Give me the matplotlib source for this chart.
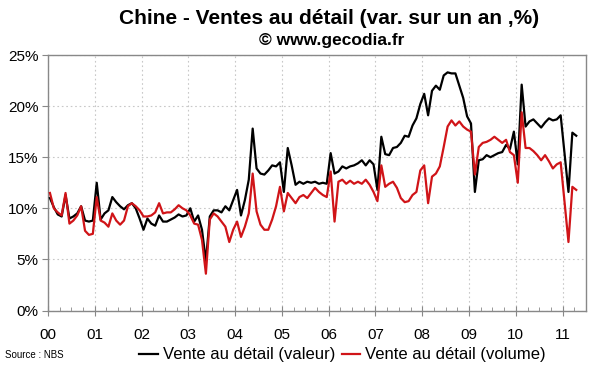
import matplotlib
matplotlib.use("Agg")
import matplotlib.pyplot as plt
from matplotlib.lines import Line2D



YEAR_LABELS=["00","01","02","03","04","05","06","07","08","09","10","11"]

# variation sur un an, %, janvier 2000 -> avril 2011 (mensuel)
VALEUR=[
	11.0,10.1,9.4,9.2,11.3,9.0,9.2,9.5,10.2,8.8,8.7,8.8,
	12.5,8.9,9.5,9.8,11.1,10.6,10.2,9.9,10.3,10.5,10.0,9.0,
	7.9,9.0,8.5,8.3,9.3,8.7,8.7,8.9,9.1,9.4,9.2,9.3,
	10.0,8.7,9.3,7.9,4.8,9.2,9.8,9.8,9.6,10.2,9.8,10.8,
	11.8,9.3,10.8,12.8,17.8,13.9,13.4,13.3,13.7,14.2,14.1,14.5,
	11.6,15.9,14.2,12.3,12.6,12.4,12.6,12.5,12.6,12.4,12.5,12.4,
	15.4,13.4,13.6,14.1,13.9,14.1,14.2,14.4,14.7,14.2,14.7,14.3,
	11.8,17.0,15.3,15.2,15.9,16.0,16.4,17.1,17.0,18.1,18.8,20.2,
	21.2,19.1,21.5,22.0,21.6,23.0,23.3,23.2,23.2,22.0,20.8,19.0,
	18.3,11.6,14.7,14.8,15.2,15.0,15.2,15.4,15.5,16.2,15.8,17.5,
	14.3,22.1,18.0,18.5,18.7,18.3,17.9,18.4,18.8,18.6,18.7,19.1,
	15.3,11.6,17.4,17.1,
]
VOLUME=[
	11.5,10.0,9.6,9.3,11.5,8.5,8.8,9.3,10.2,7.8,7.4,7.5,
	11.1,8.8,8.6,8.2,9.5,8.8,8.4,8.8,10.2,10.5,10.2,9.8,
	9.2,9.2,9.3,9.6,10.5,9.5,9.6,9.6,9.9,10.3,10.0,9.8,
	9.3,8.5,8.4,6.9,3.6,8.9,9.5,9.2,8.7,8.2,6.7,7.9,
	8.7,7.2,8.2,9.5,13.4,9.7,8.4,7.9,7.9,8.9,10.2,12.1,
	9.7,11.5,11.0,10.5,11.1,11.3,11.0,11.5,12.0,11.6,11.3,11.1,
	13.6,8.7,12.6,12.8,12.4,12.7,12.4,12.6,12.4,12.8,12.3,11.6,
	10.7,14.2,12.1,12.4,12.6,12.0,11.0,10.6,10.7,11.3,11.6,13.7,
	14.2,10.5,13.1,13.4,14.1,16.0,18.0,18.6,18.1,18.5,18.0,17.7,
	17.5,13.3,16.0,16.4,16.5,16.7,17.0,16.7,16.4,16.7,15.5,15.2,
	12.5,19.4,15.9,15.9,15.6,15.2,14.7,15.2,14.6,13.9,14.3,14.5,
	10.6,6.7,12.1,11.8,
]

BLACK="#000000"
RED="#d01418"
GRID="#c8c8c8"
FRAME="#888888"



plt.rcParams["font.family"]=["Liberation Sans","DejaVu Sans"]
fig=plt.figure(figsize=(6,3.72),dpi=100)
ax=fig.add_axes([48/600,1-310.5/372,538/600,255.5/372])
months=[i+0.5 for i in range(0,len(VALEUR))]
ax.plot(months,VALEUR,"-",color=BLACK,linewidth=1.6,zorder=3)
ax.plot(months,VOLUME,"-",color=RED,linewidth=1.6,zorder=3)
ax.set_xlim(0,138)
ax.set_ylim(0,25)
ax.set_yticks(range(0,30,5))
ax.set_yticklabels([f"{v}%" for v in range(0,30,5)],fontsize=11)
ax.set_xticks([12*i for i in range(0,len(YEAR_LABELS))])
ax.set_xticklabels(YEAR_LABELS,fontsize=11)
ax.set_xticks(range(0,138,3),minor=True)
ax.tick_params(axis="x",which="major",direction="inout",length=7,color=FRAME,pad=9)
ax.tick_params(axis="x",which="minor",direction="in",length=3,color=FRAME)
ax.tick_params(axis="y",which="major",direction="out",length=4,color=FRAME,pad=3)
ax.grid(True,which="major",color=GRID,linestyle=(0,(1.5,2.5)),linewidth=0.8)
for s in ax.spines.values():
	s.set_color(FRAME)
	s.set_linewidth(1)
fig.text(0.549,1-18/372,"Chine - Ventes au détail (var. sur un an ,%)",ha="center",va="center",fontsize=15,fontweight="bold")
fig.text(0.552,1-41/372,"© www.gecodia.fr",ha="center",va="center",fontsize=12.5,fontweight="bold")
fig.text(5/600,1-355/372,"Source : NBS",ha="left",va="center",fontsize=7)
handles=[Line2D([],[],color=BLACK,linewidth=1.6),Line2D([],[],color=RED,linewidth=1.6)]
fig.legend(handles,["Vente au détail (valeur)","Vente au détail (volume)"],loc="center",bbox_to_anchor=(0.571,1-355/372),ncol=2,frameon=False,fontsize=12,handlelength=1.1,handletextpad=0.3,columnspacing=0.4)
plt.savefig("out.png",dpi=100)
